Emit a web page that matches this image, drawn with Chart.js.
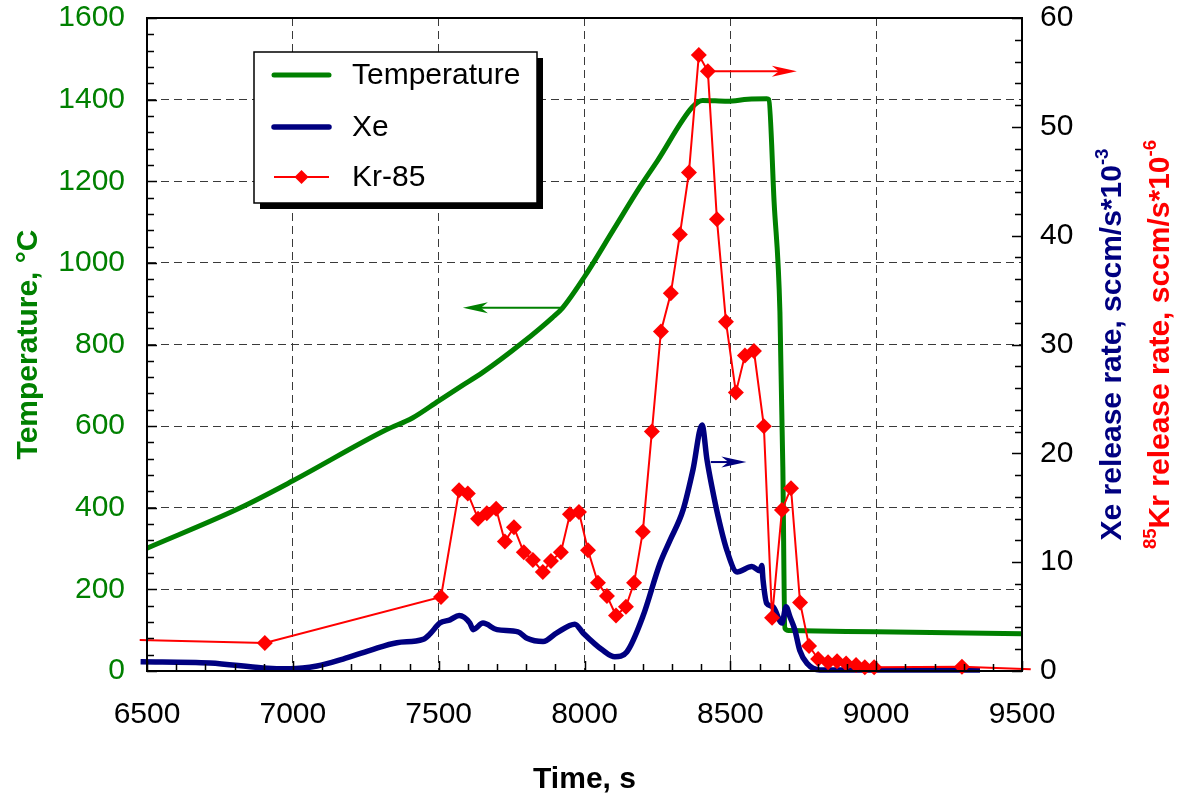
<!DOCTYPE html>
<html><head><meta charset="utf-8">
<script src="https://cdn.jsdelivr.net/npm/chart.js@4.4.1/dist/chart.umd.min.js"></script>
<style>html,body{margin:0;padding:0;background:#fff}canvas{display:block}</style>
</head><body>
<canvas id="c" width="1190" height="803"></canvas>
<script>
// ---- data ----
const xTicks = [6500, 7000, 7500, 8000, 8500, 9000, 9500];
const tempTicks = [0, 200, 400, 600, 800, 1000, 1200, 1400, 1600];
const rateTicks = [0, 10, 20, 30, 40, 50, 60];

const tempTime = [6500, 6820, 7000, 7320, 7410, 7500, 7575, 7650, 7790, 7890, 7925, 8000, 8100, 8190, 8250, 8370, 8405, 8490, 8560, 8625, 8632, 8650, 8670, 8680, 8687, 8700, 9000, 9500];
const tempVal  = [301, 400, 466, 591, 620, 662, 697, 731, 806, 866, 890, 966, 1082, 1186, 1250, 1382, 1398, 1396, 1401, 1402, 1400, 1150, 880, 500, 105, 99, 96, 91];

const xeTime = [6478, 6716, 6898, 6990, 7083, 7172, 7265, 7357, 7446, 7470, 7504, 7539, 7570, 7607, 7618, 7652, 7700, 7772, 7803, 7858, 7905, 7967, 7995, 8063, 8104, 8145, 8200, 8259, 8293, 8338, 8372, 8403, 8420, 8437, 8458, 8488, 8523, 8574, 8601, 8608, 8612, 8625, 8646, 8677, 8691, 8704, 8721, 8738, 8763, 8807, 9000, 9356];
const xeVal  = [0.85, 0.74, 0.28, 0.2, 0.46, 1.1, 1.9, 2.6, 2.9, 3.4, 4.4, 4.7, 5.1, 4.4, 3.8, 4.4, 3.8, 3.6, 3.0, 2.7, 3.5, 4.3, 3.5, 1.9, 1.3, 1.75, 5.0, 9.9, 12.0, 14.8, 18.5, 22.6, 19.4, 16.9, 14.2, 11.1, 9.1, 9.6, 9.2, 9.7, 8.4, 6.2, 5.9, 4.4, 5.9, 5.0, 3.8, 1.9, 0.7, 0.1, 0.1, 0.1];

const krTime = [6475, 6904, 7508, 7570, 7600, 7635, 7665, 7697, 7727, 7758, 7792, 7823, 7857, 7885, 7919, 7950, 7981, 8012, 8046, 8077, 8108, 8142, 8170, 8200, 8231, 8262, 8296, 8327, 8358, 8392, 8423, 8454, 8485, 8519, 8550, 8581, 8615, 8643, 8677, 8708, 8739, 8770, 8801, 8835, 8866, 8897, 8931, 8961, 8993, 9294, 9530];
const krVal  = [2.85, 2.57, 6.8, 16.6, 16.3, 14.0, 14.5, 14.9, 11.9, 13.2, 10.9, 10.2, 9.1, 10.1, 10.9, 14.4, 14.6, 11.1, 8.1, 6.9, 5.1, 5.9, 8.1, 12.8, 22.0, 31.2, 34.7, 40.1, 45.8, 56.6, 55.1, 41.5, 32.1, 25.6, 29.0, 29.4, 22.5, 4.9, 14.8, 16.8, 6.3, 2.3, 1.1, 0.8, 0.9, 0.7, 0.55, 0.35, 0.35, 0.4, 0.15];

// ---- styling ----
const FONT = '"Liberation Sans", Arial, Helvetica, sans-serif';
const GREEN = '#008000', NAVY = '#000080', RED = '#ff0000';
const FS = 30;
Chart.defaults.font.family = FONT;

const pts = (xs, ys) => xs.map((x, i) => ({x, y: ys[i]}));
const krRadius = krTime.map((t, i) => (i === 0 || i === krTime.length - 1) ? 0 : 8);

const arrows = [
  {axis: 'y',  y: 890,  x1: 7926, x2: 7583, color: GREEN},
  {axis: 'y2', y: 55.1, x1: 8423, x2: 8728, color: RED},
  {axis: 'y2', y: 19.2, x1: 8433, x2: 8555, color: NAVY}
];

function drawArrow(ctx, x1, y, x2, color) {
  const dir = Math.sign(x2 - x1);
  ctx.save();
  ctx.strokeStyle = color; ctx.fillStyle = color; ctx.lineWidth = 2;
  ctx.beginPath(); ctx.moveTo(x1, y); ctx.lineTo(x2 - dir * 10, y); ctx.stroke();
  ctx.beginPath();
  ctx.moveTo(x2, y);
  ctx.lineTo(x2 - dir * 25, y - 5.5);
  ctx.lineTo(x2 - dir * 18, y);
  ctx.lineTo(x2 - dir * 25, y + 5.5);
  ctx.closePath(); ctx.fill();
  ctx.restore();
}

function drawRotatedParts(ctx, parts, cx, cy, size, color) {
  ctx.save();
  ctx.translate(cx, cy);
  ctx.rotate(-Math.PI / 2);
  ctx.fillStyle = color;
  ctx.textBaseline = 'alphabetic';
  ctx.textAlign = 'left';
  let total = 0;
  for (const p of parts) {
    ctx.font = 'bold ' + (p.sup ? size * 0.62 : size) + 'px ' + FONT;
    p.w = ctx.measureText(p.t).width;
    total += p.w;
  }
  let x = -total / 2;
  for (const p of parts) {
    ctx.font = 'bold ' + (p.sup ? size * 0.62 : size) + 'px ' + FONT;
    ctx.fillText(p.t, x, size * 0.36 - (p.sup ? size * 0.42 : 0));
    x += p.w;
  }
  ctx.restore();
}

const deco = {
  id: 'deco',
  afterDatasetsDraw(chart) {
    const {ctx, scales} = chart;
    for (const a of arrows) {
      const yy = scales[a.axis].getPixelForValue(a.y);
      drawArrow(ctx, scales.x.getPixelForValue(a.x1), yy, scales.x.getPixelForValue(a.x2), a.color);
    }
  },
  afterDraw(chart) {
    const {ctx, chartArea: A, scales: {x, y, y2}} = chart;
    ctx.save();
    // frame
    ctx.strokeStyle = '#000'; ctx.lineWidth = 2;
    ctx.strokeRect(A.left, A.top, A.right - A.left, A.bottom - A.top);
    // minor ticks (inward)
    ctx.lineWidth = 1.5;
    ctx.beginPath();
    for (let v = 6500; v <= 9500; v += 100) {
      const px = Math.round(x.getPixelForValue(v)) + 0.5;
      const len = (v % 500 === 0) ? 10 : 7;
      ctx.moveTo(px, A.bottom); ctx.lineTo(px, A.bottom - len);
    }
    for (let v = 0; v <= 1600; v += 40) {
      const py = Math.round(y.getPixelForValue(v)) + 0.5;
      const len = (v % 200 === 0) ? 10 : 7;
      ctx.moveTo(A.left, py); ctx.lineTo(A.left + len, py);
    }
    for (let v = 0; v <= 60; v += 2) {
      const py = Math.round(y2.getPixelForValue(v)) + 0.5;
      const len = (v % 10 === 0) ? 10 : 7;
      ctx.moveTo(A.right, py); ctx.lineTo(A.right - len, py);
    }
    ctx.stroke();

    // legend
    const L = {x: 254, y: 52, w: 283, h: 151};
    ctx.fillStyle = '#000';
    ctx.fillRect(L.x + 6, L.y + 6, L.w, L.h);
    ctx.fillStyle = '#fff';
    ctx.fillRect(L.x, L.y, L.w, L.h);
    ctx.strokeStyle = '#000'; ctx.lineWidth = 1.5;
    ctx.strokeRect(L.x, L.y, L.w, L.h);
    const ds = chart.data.datasets;
    const rows = [75, 127, 177];
    ctx.font = FS + 'px ' + FONT;
    ctx.textBaseline = 'middle'; ctx.textAlign = 'left';
    ds.forEach((d, i) => {
      const yy = rows[i];
      ctx.strokeStyle = d.borderColor; ctx.lineWidth = d.borderWidth;
      ctx.lineCap = i < 2 ? 'round' : 'butt';
      ctx.beginPath(); ctx.moveTo(274, yy); ctx.lineTo(329, yy); ctx.stroke();
      if (d.pointStyle === 'rectRot') {
        ctx.fillStyle = d.borderColor;
        ctx.beginPath();
        ctx.moveTo(301.5, yy - 7); ctx.lineTo(308.5, yy); ctx.lineTo(301.5, yy + 7); ctx.lineTo(294.5, yy);
        ctx.closePath(); ctx.fill();
      }
      ctx.fillStyle = '#000';
      ctx.fillText(d.label, 352, yy + 1);
    });

    // axis titles
    ctx.fillStyle = '#000';
    ctx.font = 'bold ' + FS + 'px ' + FONT;
    ctx.textAlign = 'center'; ctx.textBaseline = 'middle';
    ctx.fillText('Time, s', (A.left + A.right) / 2, 780);
    const cy = (A.top + A.bottom) / 2;
    drawRotatedParts(ctx, [{t: 'Temperature, °C'}], 26, cy, FS, GREEN);
    drawRotatedParts(ctx, [{t: 'Xe release rate, sccm/s*10'}, {t: '-3', sup: true}], 1110, cy, FS, NAVY);
    drawRotatedParts(ctx, [{t: '85', sup: true}, {t: 'Kr release rate, sccm/s*10'}, {t: '-6', sup: true}], 1158, cy, FS, RED);
    ctx.restore();
  }
};

const gridCommon = {color: '#3a3a3a', lineWidth: 1, drawTicks: false};
const borderCommon = {display: true, color: '#000', width: 2, dash: [8, 5]};
const noVPad = s => { s.paddingTop = 0; s.paddingBottom = 0; };

new Chart(document.getElementById('c'), {
  type: 'line',
  data: {
    datasets: [
      {label: 'Temperature', data: pts(tempTime, tempVal), yAxisID: 'y', borderColor: GREEN, backgroundColor: GREEN,
       borderWidth: 5, pointRadius: 0, cubicInterpolationMode: 'monotone', order: 3},
      {label: 'Xe', data: pts(xeTime, xeVal), yAxisID: 'y2', borderColor: NAVY, backgroundColor: NAVY,
       borderWidth: 5.5, pointRadius: 0, cubicInterpolationMode: 'monotone', order: 2, clip: false},
      {label: 'Kr-85', data: pts(krTime, krVal), yAxisID: 'y2', borderColor: RED, backgroundColor: RED,
       borderWidth: 2, pointStyle: 'rectRot', pointRadius: krRadius, pointBorderWidth: 0,
       pointBackgroundColor: RED, tension: 0, order: 1, clip: false}
    ]
  },
  options: {
    responsive: false, animation: false, devicePixelRatio: 1,
    layout: {padding: {top: 18, left: 0, right: 0, bottom: 0}},
    plugins: {legend: {display: false}, tooltip: {enabled: false}},
    scales: {
      x: {
        type: 'linear', min: 6500, max: 9500,
        afterBuildTicks: s => { s.ticks = xTicks.map(v => ({value: v})); },
        afterFit: s => { s.height = 132; s.paddingLeft = 0; s.paddingRight = 0; },
        ticks: {color: '#000', font: {size: FS}, padding: 26, maxRotation: 0, callback: v => String(v)},
        grid: gridCommon, border: borderCommon
      },
      y: {
        position: 'left', min: 0, max: 1600,
        afterBuildTicks: s => { s.ticks = tempTicks.map(v => ({value: v})); },
        afterFit: s => { s.width = 147; noVPad(s); },
        ticks: {color: GREEN, font: {size: FS}, padding: 22, callback: v => String(v)},
        grid: gridCommon, border: borderCommon
      },
      y2: {
        position: 'right', min: 0, max: 60,
        afterBuildTicks: s => { s.ticks = rateTicks.map(v => ({value: v})); },
        afterFit: s => { s.width = 168; noVPad(s); },
        ticks: {color: '#000', font: {size: FS}, padding: 18, callback: v => String(v)},
        grid: {display: false, drawTicks: false}, border: {display: true, color: '#000', width: 2}
      }
    }
  },
  plugins: [deco]
});
</script>
</body></html>
